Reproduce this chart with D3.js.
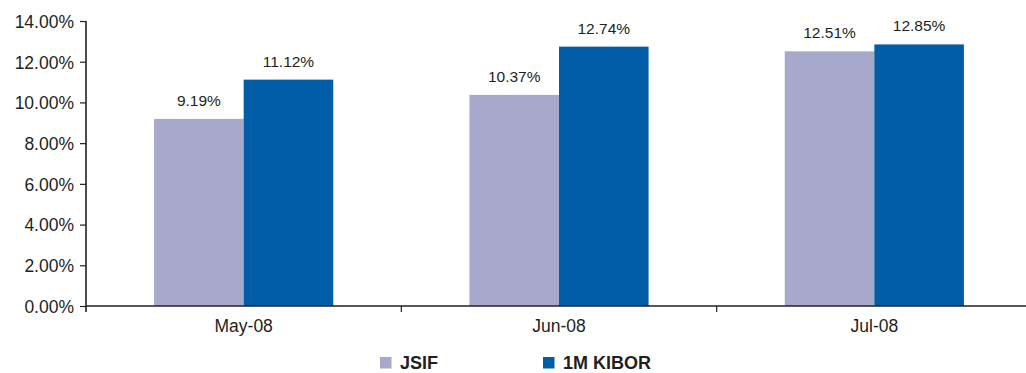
<!DOCTYPE html>
<html>
<head>
<meta charset="utf-8">
<script src="https://cdn.jsdelivr.net/npm/d3@7"></script>
<style>
  html, body { margin: 0; padding: 0; background: #fff; }
  svg { display: block; font-family: "Liberation Sans", Arial, sans-serif; }
</style>
</head>
<body>
<svg id="chart" width="1026" height="373"></svg>
<script>
// Monthly yields: JSIF vs 1M KIBOR
const categories = ["May-08", "Jun-08", "Jul-08"];
const seriesNames = ["JSIF", "1M KIBOR"];
const jsifValues = [9.19, 10.37, 12.51];
const kiborValues = [11.12, 12.74, 12.85];
const yTicks = [0, 2, 4, 6, 8, 10, 12, 14];

const colors = ["#a8a8cc", "#005ea8"];
const textColor = "#231f20";

const svg = d3.select("#chart");
const x0 = 86, x1 = 1032, yTop = 21, yBottom = 306;

const x = d3.scaleBand().domain(categories).range([x0, x1]).padding(0);
// two adjacent bars centred in each category band
const xs = d3.scaleBand().domain(seriesNames).range([0, x.bandwidth()]).paddingInner(0).paddingOuter(0.76);
const y = d3.scaleLinear().domain([0, 14]).range([yBottom, yTop]);

const rows = categories.map((c, i) => ({ cat: c, values: [jsifValues[i], kiborValues[i]] }));

// bars
const groups = svg.append("g").selectAll("g").data(rows).join("g")
  .attr("transform", d => `translate(${x(d.cat)},0)`);

groups.selectAll("rect").data(d => d.values.map((v, k) => ({ k, v }))).join("rect")
  .attr("x", d => xs(seriesNames[d.k]))
  .attr("width", xs.bandwidth())
  .attr("y", d => y(d.v))
  .attr("height", d => y(0) - y(d.v))
  .attr("fill", d => colors[d.k]);

// value labels
groups.selectAll("text").data(d => d.values.map((v, k) => ({ k, v }))).join("text")
  .attr("x", d => xs(seriesNames[d.k]) + xs.bandwidth() / 2)
  .attr("y", d => y(d.v) - 13)
  .attr("text-anchor", "middle")
  .attr("font-size", "15.5px")
  .attr("fill", textColor)
  .text(d => d.v.toFixed(2) + "%");

// y axis
const yAxis = svg.append("g").attr("transform", `translate(${x0},0)`)
  .call(d3.axisLeft(y).tickValues(yTicks).tickSize(6).tickPadding(6).tickFormat(d => d.toFixed(2) + "%"));
yAxis.select(".domain").attr("d", `M0,${yTop}V${yBottom + 6}`).attr("stroke", textColor).attr("stroke-width", 1.6);
yAxis.selectAll(".tick line").attr("stroke", textColor).attr("stroke-width", 1.2);
yAxis.selectAll(".tick text").attr("font-size", "17.5px").attr("fill", textColor)
  .attr("font-family", "'Liberation Sans', Arial, sans-serif").attr("dy", "0.36em");

// x axis
const xAxis = svg.append("g").attr("transform", `translate(0,${yBottom})`)
  .call(d3.axisBottom(x).tickSize(0).tickPadding(14));
xAxis.select(".domain").attr("stroke", textColor).attr("stroke-width", 1.6).attr("d", `M${x0},0H${x1}`);
xAxis.selectAll(".tick text").attr("font-size", "17.5px").attr("fill", textColor)
  .attr("font-family", "'Liberation Sans', Arial, sans-serif");
// category boundary ticks
xAxis.append("g").selectAll("line").data(categories.slice(1)).join("line")
  .attr("x1", d => x(d)).attr("x2", d => x(d))
  .attr("y1", 0).attr("y2", 6)
  .attr("stroke", textColor).attr("stroke-width", 1.2);

// legend
const legendX = [380, 543];
const legend = svg.append("g").selectAll("g").data(seriesNames).join("g")
  .attr("transform", (d, i) => `translate(${legendX[i]},357)`);
legend.append("rect").attr("width", 11.5).attr("height", 11.5).attr("fill", (d, i) => colors[i]);
legend.append("text").attr("x", 20).attr("y", 11.5)
  .attr("font-size", "18px").attr("font-weight", "bold").attr("fill", textColor)
  .text(d => d);
</script>
</body>
</html>
